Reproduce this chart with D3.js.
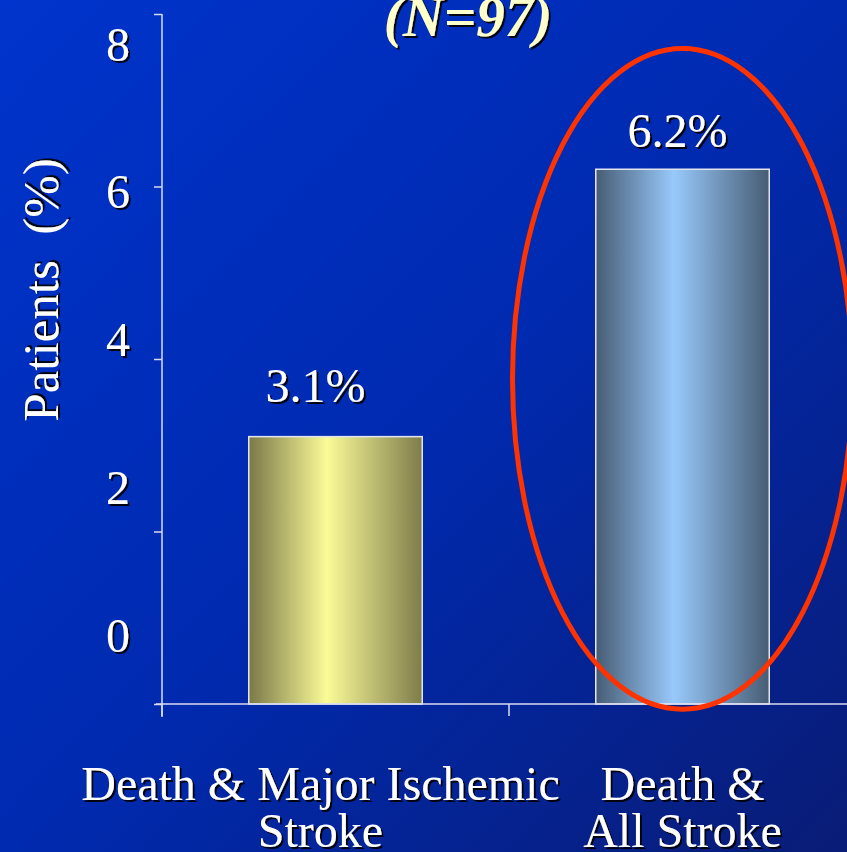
<!DOCTYPE html>
<html>
<head>
<meta charset="utf-8">
<script src="https://cdn.jsdelivr.net/npm/d3@7/dist/d3.min.js"></script>
<style>
  html, body { margin: 0; padding: 0; background: #0030c0; }
  svg { display: block; }
  text { font-family: "Liberation Serif", "Times New Roman", serif; }
</style>
</head>
<body>
<svg id="chart" width="847" height="852"></svg>
<script>
// Outcome categories and their event rates (%)
const categories = ["Death & Major Ischemic|Stroke", "Death &|All Stroke"];
const values = [3.1, 6.2];
const valueLabels = ["3.1%", "6.2%"];
const yTicks = [0, 2, 4, 6, 8];
const title = "(N=97)";
const yTitle = "Patients  (%)";

const W = 847, H = 852;
const svg = d3.select("#chart");
const defs = svg.append("defs");

// Backdrop gradient
const bg = defs.append("linearGradient").attr("id", "bg")
  .attr("x1", "0%").attr("y1", "0%").attr("x2", "100%").attr("y2", "100%");
bg.append("stop").attr("offset", "0%").attr("stop-color", "#0034cc");
bg.append("stop").attr("offset", "50%").attr("stop-color", "#002ab0");
bg.append("stop").attr("offset", "100%").attr("stop-color", "#091c76");
svg.append("rect").attr("width", W).attr("height", H).attr("fill", "url(#bg)");

// Cylinder-like shading for each bar
function barGradient(id, edgeL, mid, edgeR) {
  const g = defs.append("linearGradient").attr("id", id)
    .attr("x1", "0%").attr("y1", "0%").attr("x2", "100%").attr("y2", "0%");
  g.append("stop").attr("offset", "0%").attr("stop-color", edgeL);
  g.append("stop").attr("offset", "45%").attr("stop-color", mid);
  g.append("stop").attr("offset", "100%").attr("stop-color", edgeR);
}
barGradient("barYellow", "#7a7848", "#fbfb98", "#7e7c4a");
barGradient("barBlue", "#475c74", "#98c9fb", "#475c74");
const fills = ["url(#barYellow)", "url(#barBlue)"];

// Text shadow
const sh = defs.append("filter").attr("id", "shadow")
  .attr("x", "-10%").attr("y", "-10%").attr("width", "130%").attr("height", "130%");
sh.append("feDropShadow").attr("dx", 2).attr("dy", 2).attr("stdDeviation", 0.6)
  .attr("flood-color", "#000").attr("flood-opacity", 0.9);

// Scales
const plotLeft = 162, plotRight = 856, baseY = 704, topY = 14;
const x = d3.scaleBand().domain(categories).range([plotLeft, plotRight])
  .paddingInner(0.5).paddingOuter(0.25);
const y = d3.scaleLinear().domain([0, 8]).range([baseY, topY]);
// Tick labels sit on their own spacing, independent of the tick marks
const yLabel = d3.scaleLinear().domain([0, 8]).range([635, 44]);

const axisColor = "#d8dcf0";

// Y axis line and tick marks
const yAxis = svg.append("g").attr("transform", `translate(${plotLeft},0)`)
  .call(d3.axisLeft(y).tickValues(yTicks).tickSize(8).tickFormat("").tickSizeOuter(0));
yAxis.select(".domain").attr("stroke", axisColor).attr("stroke-width", 1.5)
  .attr("d", `M0,${topY}V${baseY + 13}`);
yAxis.selectAll(".tick line").attr("stroke", axisColor).attr("stroke-width", 1.5);

// Y tick labels
svg.append("g").selectAll("text").data(yTicks).join("text")
  .attr("x", 130).attr("y", d => yLabel(d))
  .attr("text-anchor", "end").attr("dominant-baseline", "central")
  .attr("font-size", 48).attr("fill", "#fff").attr("filter", "url(#shadow)")
  .text(d => d);

// Bars
svg.append("g").selectAll("rect").data(values).join("rect")
  .attr("x", (d, i) => x(categories[i]))
  .attr("width", x.bandwidth())
  .attr("y", d => y(d))
  .attr("height", d => y(0) - y(d))
  .attr("fill", (d, i) => fills[i])
  .attr("stroke", "#e4e6ee").attr("stroke-width", 1.5);

// X axis line with boundary ticks
const step = x.step();
const boundaries = d3.range(categories.length + 1).map(i => plotLeft + i * step);
svg.append("line").attr("x1", plotLeft - 6).attr("x2", W).attr("y1", baseY).attr("y2", baseY)
  .attr("stroke", axisColor).attr("stroke-width", 1.5);
svg.append("g").selectAll("line").data(boundaries).join("line")
  .attr("x1", d => d).attr("x2", d => d).attr("y1", baseY).attr("y2", baseY + 12)
  .attr("stroke", axisColor).attr("stroke-width", 1.5);

// Value labels above the bars
svg.append("g").selectAll("text").data(values).join("text")
  .attr("x", (d, i) => x(categories[i]) + x.bandwidth() / 2 - (i === 0 ? 20 : 5))
  .attr("y", (d, i) => y(d) - (i === 0 ? 35 : 22))
  .attr("text-anchor", "middle")
  .attr("font-size", 48).attr("fill", "#fff").attr("filter", "url(#shadow)")
  .text((d, i) => valueLabels[i]);

// Category labels (two lines each)
const cat = svg.append("g").selectAll("text").data(categories).join("text")
  .attr("text-anchor", "middle")
  .attr("font-size", 48).attr("fill", "#fff").attr("filter", "url(#shadow)");
cat.each(function(d, i) {
  const lines = d.split("|");
  const cx = x(d) + x.bandwidth() / 2 - (i === 0 ? 15 : 0);
  d3.select(this).selectAll("tspan").data(lines).join("tspan")
    .attr("x", cx).attr("y", (l, j) => 800 + j * 47)
    .text(l => l);
});

// Y axis title
svg.append("text")
  .attr("transform", "translate(58,290) rotate(-90)")
  .attr("text-anchor", "middle")
  .attr("font-size", 51).attr("fill", "#fff").attr("filter", "url(#shadow)")
  .attr("xml:space", "preserve").style("white-space", "pre")
  .text(yTitle);

// Chart title (partly above the frame)
svg.append("text")
  .attr("x", 468).attr("y", 36)
  .attr("text-anchor", "middle")
  .attr("font-size", 57).attr("font-weight", "bold").attr("font-style", "italic")
  .attr("fill", "#ffffcc").attr("filter", "url(#shadow)")
  .text(title);

// Highlight ring around the second bar
const hx = x(categories[1]) + x.bandwidth() / 2;
const ringTop = y(7.6), ringBottom = y(-0.06);
svg.append("ellipse")
  .attr("cx", hx).attr("cy", (ringTop + ringBottom) / 2)
  .attr("rx", 170).attr("ry", (ringBottom - ringTop) / 2)
  .attr("fill", "none").attr("stroke", "#ff3300").attr("stroke-width", 5);
</script>
</body>
</html>
